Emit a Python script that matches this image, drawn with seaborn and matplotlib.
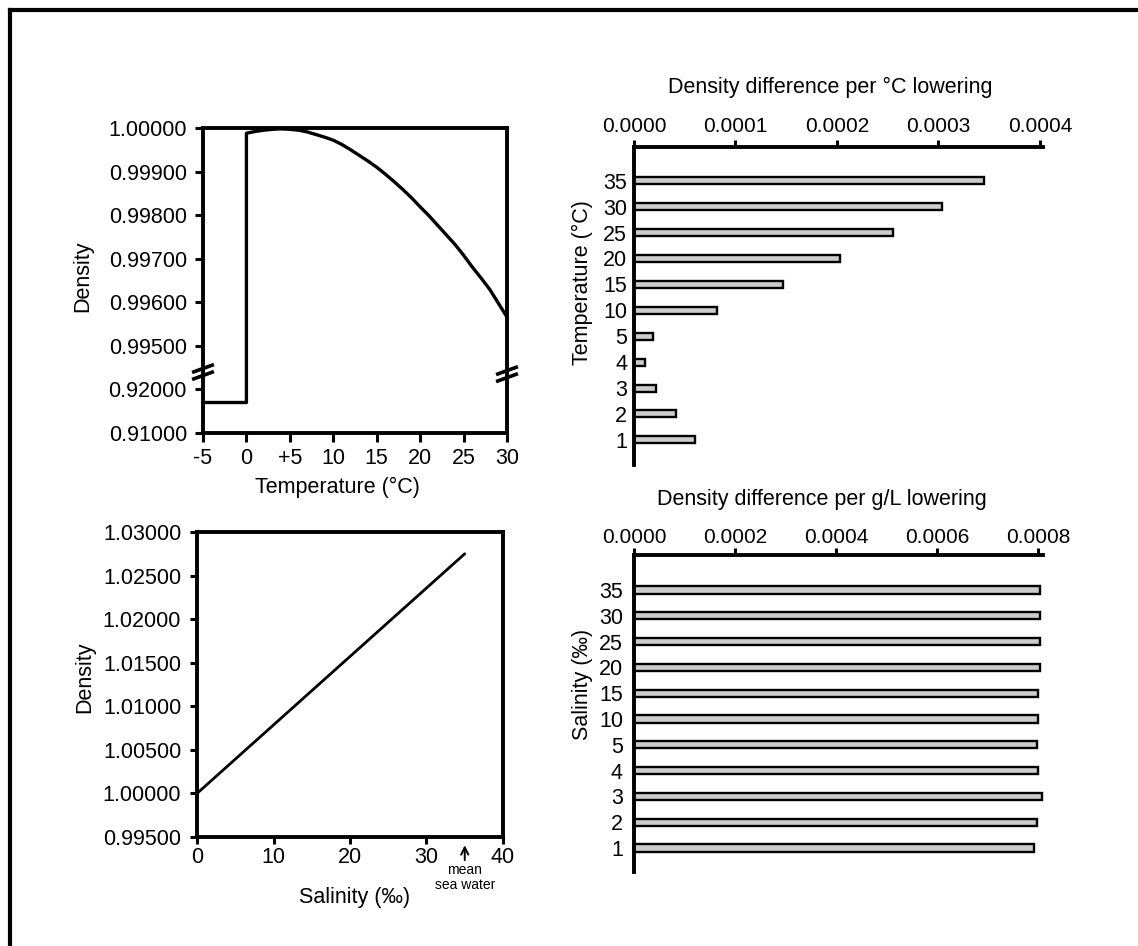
import numpy as np
import pandas as pd
import matplotlib
matplotlib.use("Agg")
import matplotlib.pyplot as plt
from matplotlib.lines import Line2D
import seaborn as sns

# ---- data -------------------------------------------------------------
# Density of ice (below 0 degC) and of fresh water (0-30 degC)
ice_temp = [-5, 0]
ice_density = [0.9170, 0.9170]
water_temp = list(range(0, 31))
water_density = [0.99988, 0.99992, 0.99995, 0.99997, 0.99998, 0.99997,
                 0.99995, 0.99991, 0.99985, 0.99979, 0.99972, 0.99962,
                 0.99950, 0.99937, 0.99924, 0.99910, 0.99894, 0.99877,
                 0.99859, 0.99840, 0.99819, 0.99799, 0.99777, 0.99755,
                 0.99733, 0.99708, 0.99681, 0.99656, 0.99630, 0.99598,
                 0.99566]
temp_ticks = [-5, 0, 5, 10, 15, 20, 25, 30]
temp_tick_labels = ["-5", "0", "+5", "10", "15", "20", "25", "30"]
density_ticks_t = [0.91, 0.92, 0.995, 0.996, 0.997, 0.998, 0.999, 1.0]

# Density of water against salinity
salinity = [0, 35]
density_s = [1.00000, 1.02750]
salinity_ticks = [0, 10, 20, 30, 40]
density_ticks_s = [0.995, 1.000, 1.005, 1.010, 1.015, 1.020, 1.025, 1.030]

# Density change per degree of cooling at each temperature
temp_levels = ["35", "30", "25", "20", "15", "10", "5", "4", "3", "2", "1"]
diff_per_degree = [0.000345, 0.000303, 0.000255, 0.000203, 0.0001465,
                   0.0000813, 0.0000184, 0.0000105, 0.0000220, 0.0000412,
                   0.0000602]
diff_t_ticks = [0.0, 0.0001, 0.0002, 0.0003, 0.0004]

# Density change per g/L of salt removed at each salinity
salinity_levels = ["35", "30", "25", "20", "15", "10", "5", "4", "3", "2", "1"]
diff_per_gram = [0.000805, 0.000805, 0.000805, 0.000805, 0.000801,
                 0.000801, 0.000798, 0.000801, 0.000809, 0.000798,
                 0.000793]
diff_s_ticks = [0.0, 0.0002, 0.0004, 0.0006, 0.0008]

# ---- style ------------------------------------------------------------
sns.set_theme(style="ticks")
plt.rcParams["font.family"] = ["Liberation Sans", "DejaVu Sans"]
plt.rcParams["text.color"] = "black"
plt.rcParams["axes.labelcolor"] = "black"
plt.rcParams["xtick.color"] = "black"
plt.rcParams["ytick.color"] = "black"

FS = 15.5
SPINE = 2.8
TICK_W = 2.2
W, H = 1138, 946

fig = plt.figure(figsize=(W / 100, H / 100), dpi=100)
fig.patch.set_facecolor("white")


def px_axes(left, top, right, bottom):
    return fig.add_axes([left / W, 1 - bottom / H, (right - left) / W,
                         (bottom - top) / H])


def style_box(ax, spines=("left", "right", "top", "bottom")):
    for name, sp in ax.spines.items():
        sp.set_visible(name in spines)
        sp.set_linewidth(SPINE)
        sp.set_color("black")
    ax.set_facecolor("white")


# ---- top left: density vs temperature (broken y axis) -----------------
def fwd(v):
    v = np.asarray(v, dtype=float)
    return np.where(v <= 0.92, (v - 0.91) / 0.01,
                    np.where(v >= 0.995, 2 + (v - 0.995) / 0.001,
                             1 + (v - 0.92) / 0.075))


def inv(p):
    p = np.asarray(p, dtype=float)
    return np.where(p <= 1, 0.91 + p * 0.01,
                    np.where(p >= 2, 0.995 + (p - 2) * 0.001,
                             0.92 + (p - 1) * 0.075))


ax1 = px_axes(203, 128, 507, 433)
style_box(ax1)
ax1.set_yscale("function", functions=(fwd, inv))
curve = pd.DataFrame({"temp": ice_temp + water_temp,
                      "density": ice_density + water_density})
sns.lineplot(data=curve, x="temp", y="density", sort=False, estimator=None,
             color="black", linewidth=2.4, ax=ax1, clip_on=False)
ax1.set_xlim(-5, 30)
ax1.set_ylim(0.91, 1.0)
ax1.set_xticks(temp_ticks, labels=temp_tick_labels)
ax1.set_yticks(density_ticks_t, labels=[f"{t:.5f}" for t in density_ticks_t])
ax1.minorticks_off()
ax1.tick_params(axis="x", direction="out", length=6.2, width=TICK_W,
                labelsize=FS, pad=4.4)
ax1.tick_params(axis="y", direction="out", length=5.8, width=TICK_W,
                labelsize=FS, pad=5.8)
ax1.set_xlabel("Temperature (\u00b0C)", fontsize=FS)
ax1.set_ylabel("Density", fontsize=FS)
ax1.xaxis.set_label_coords(0.441, -0.180)
ax1.xaxis.label.set_va("center")
ax1.yaxis.set_label_coords(-0.395, 0.515)
ax1.yaxis.label.set_va("center")

# axis-break marks on both vertical spines
for xc, yc in [(0.0, 0.200), (1.0, 0.193)]:
    for off in (-0.0115, 0.0115):
        ax1.plot([xc - 0.036, xc + 0.036],
                 [yc + off - 0.013, yc + off + 0.013],
                 transform=ax1.transAxes, color="black", linewidth=2.6,
                 clip_on=False, solid_capstyle="butt")

# ---- bottom left: density vs salinity ---------------------------------
ax3 = px_axes(197, 532, 503, 837)
style_box(ax3)
sal = pd.DataFrame({"salinity": salinity, "density": density_s})
sns.lineplot(data=sal, x="salinity", y="density", color="black",
             linewidth=2.0, ax=ax3)
ax3.set_xlim(0, 40)
ax3.set_ylim(0.995, 1.030)
ax3.set_xticks(salinity_ticks, labels=[str(t) for t in salinity_ticks])
ax3.set_yticks(density_ticks_s, labels=[f"{t:.5f}" for t in density_ticks_s])
ax3.tick_params(axis="x", direction="out", length=5.2, width=TICK_W,
                labelsize=FS, pad=2.0)
ax3.tick_params(axis="y", direction="out", length=5.2, width=TICK_W,
                labelsize=FS, pad=6.2)
ax3.set_xlabel("Salinity (\u2030)", fontsize=FS)
ax3.set_ylabel("Density", fontsize=FS)
ax3.xaxis.set_label_coords(0.516, -0.197)
ax3.xaxis.label.set_va("center")
ax3.yaxis.set_label_coords(-0.366, 0.525)
ax3.yaxis.label.set_va("center")

blend = ax3.get_xaxis_transform()
ax3.annotate("", xy=(35, -0.018), xycoords=blend,
             xytext=(35, -0.085), textcoords=blend,
             arrowprops=dict(arrowstyle="->", lw=1.4, color="black",
                             mutation_scale=13))
ax3.text(35, -0.132, "mean\nsea water", transform=blend, ha="center",
         va="center", fontsize=10, linespacing=1.05)

# ---- top right: density difference per degree -------------------------
ax2 = px_axes(634, 147, 1043, 465)
style_box(ax2, spines=("left", "top"))
bars_t = pd.DataFrame({"temperature": temp_levels, "diff": diff_per_degree})
sns.barplot(data=bars_t, y="temperature", x="diff", order=temp_levels,
            orient="h", color="#cccccc", saturation=1, edgecolor="black",
            linewidth=1.7, width=0.27, ax=ax2)
ax2.set_xlim(0, 0.000403)
ax2.set_ylim(10.97, -1.3)
ax2.xaxis.tick_top()
ax2.set_xticks(diff_t_ticks, labels=[f"{t:.4f}" for t in diff_t_ticks])
ax2.tick_params(axis="x", direction="out", length=5, width=TICK_W,
                labelsize=FS - 0.5, pad=2.6)
ax2.tick_params(axis="y", length=0, labelsize=FS, pad=5)
ax2.set_xlabel("")
ax2.set_ylabel("Temperature (\u00b0C)", fontsize=FS)
ax2.yaxis.set_label_coords(-0.127, 0.575)
ax2.yaxis.label.set_va("center")
ax2.text(0.479, 1.186, "Density difference per \u00b0C lowering",
         transform=ax2.transAxes, ha="center", va="center", fontsize=FS)

# ---- bottom right: density difference per g/L -------------------------
ax4 = px_axes(634, 555, 1043, 872)
style_box(ax4, spines=("left", "top"))
bars_s = pd.DataFrame({"salinity": salinity_levels, "diff": diff_per_gram})
sns.barplot(data=bars_s, y="salinity", x="diff", order=salinity_levels,
            orient="h", color="#cccccc", saturation=1, edgecolor="black",
            linewidth=1.7, width=0.28, ax=ax4)
ax4.set_xlim(0, 0.00081)
ax4.set_ylim(10.93, -1.36)
ax4.xaxis.tick_top()
ax4.set_xticks(diff_s_ticks, labels=[f"{t:.4f}" for t in diff_s_ticks])
ax4.tick_params(axis="x", direction="out", length=5, width=TICK_W,
                labelsize=FS - 0.5, pad=1.0)
ax4.tick_params(axis="y", length=0, labelsize=FS, pad=8)
ax4.set_xlabel("")
ax4.set_ylabel("Salinity (\u2030)", fontsize=FS)
ax4.yaxis.set_label_coords(-0.125, 0.593)
ax4.yaxis.label.set_va("center")
ax4.text(0.46, 1.174, "Density difference per g/L lowering",
         transform=ax4.transAxes, ha="center", va="center", fontsize=FS)
for p in ax4.patches:
    p.set_clip_on(False)

# ---- frame along the left and top edges -------------------------------
fx, fy = 10 / W, 1 - 10 / H
fig.add_artist(Line2D([fx, fx], [0, fy], transform=fig.transFigure,
                      color="black", linewidth=3, solid_capstyle="projecting"))
fig.add_artist(Line2D([fx, 1], [fy, fy], transform=fig.transFigure,
                      color="black", linewidth=3, solid_capstyle="projecting"))

fig.savefig("out.png", dpi=100, facecolor="white")
